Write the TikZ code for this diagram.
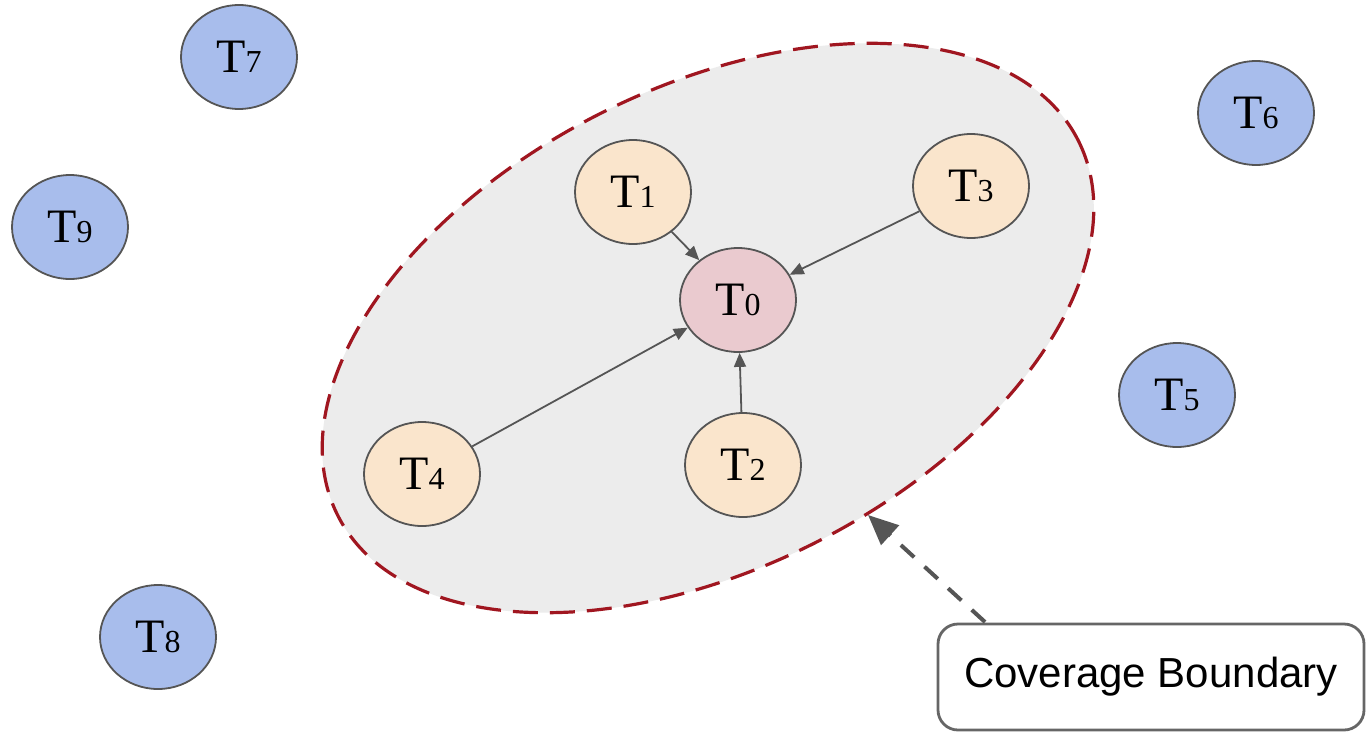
\documentclass[tikz,border=0pt]{standalone}
\usepackage{fontspec}
\newfontfamily\boxfont{Liberation Sans}
\newfontfamily\tfont{Liberation Serif}
\usetikzlibrary{shapes.geometric,arrows.meta}
\definecolor{bluefill}{RGB}{168,189,236}
\definecolor{tanfill}{RGB}{250,229,204}
\definecolor{pinkfill}{RGB}{234,202,207}
\definecolor{regionfill}{RGB}{236,236,236}
\definecolor{regionline}{RGB}{160,22,32}
\definecolor{edgegray}{RGB}{85,85,85}
\newcommand{\tlab}[1]{{\tfont\fontsize{24}{26}\selectfont T}{\tfont\fontsize{16}{18}\selectfont #1}}
\tikzset{
  tnode/.style={ellipse,draw=edgegray,line width=0.9pt,minimum width=58pt,minimum height=52pt,inner sep=0pt},
  outer/.style={tnode,fill=bluefill},
  inner/.style={tnode,fill=tanfill},
  center/.style={tnode,fill=pinkfill},
  link/.style={draw=edgegray,line width=0.9pt,-{Triangle[length=7pt,width=6pt]}},
  callout/.style={draw=edgegray,dash pattern=on 9pt off 7pt,line width=2pt,-{Triangle[length=15pt,width=13pt]}},
  labelbox/.style={draw=edgegray!90,line width=1.4pt,rounded corners=10pt,minimum width=213pt,minimum height=53pt,fill=white,font=\boxfont\fontsize{21}{24}\selectfont}
}
\begin{document}
\begin{tikzpicture}[x=0.5pt,y=-0.5pt]
\useasboundingbox (0,0) rectangle (1368,733);
\fill[white] (0,0) rectangle (1368,733);
\draw[rotate around={26.9:(708,328)},fill=regionfill,draw=regionline,line width=1.6pt,dash pattern=on 12.5pt off 6pt] (708,328) ellipse (415 and 240);
\node[outer] (t7) at (239,57) {\tlab{7}};
\node[outer] (t6) at (1256,113) {\tlab{6}};
\node[outer] (t9) at (70,227) {\tlab{9}};
\node[outer] (t5) at (1177,395) {\tlab{5}};
\node[outer] (t8) at (158,637) {\tlab{8}};
\node[inner] (t1) at (633,192) {\tlab{1}};
\node[inner] (t3) at (971,186) {\tlab{3}};
\node[inner] (t4) at (422,474) {\tlab{4}};
\node[inner] (t2) at (743,465) {\tlab{2}};
\node[center] (t0) at (738,300) {\tlab{0}};
\draw[link] (t1) -- (t0);
\draw[link] (t3) -- (t0);
\draw[link] (t4) -- (t0);
\draw[link] (t2) -- (t0);
\node[labelbox] (cb) at (1151,677) {Coverage Boundary};
\coordinate (bnd) at (868,515);
\draw[callout] (985,622) -- (bnd);
\end{tikzpicture}
\end{document}
